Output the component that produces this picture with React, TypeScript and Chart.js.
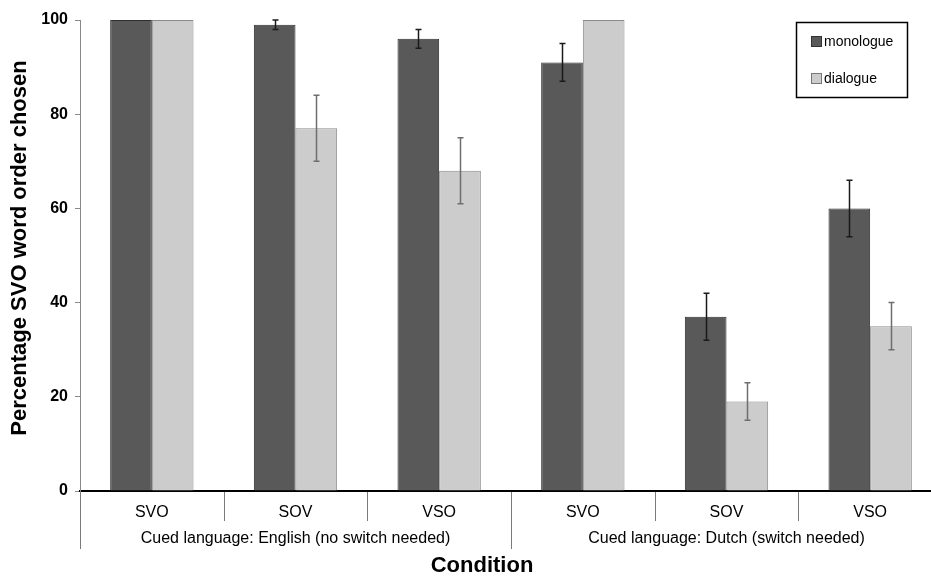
import React, { useEffect, useRef } from "react";
import { Chart, registerables } from "chart.js";

Chart.register(...registerables);

const categories = ["SVO", "SOV", "VSO", "SVO", "SOV", "VSO"];
const groups = ["Cued language: English (no switch needed)", "Cued language: Dutch (switch needed)"];
const monologue = [100, 99, 96, 91, 37, 60];
const dialogue = [100, 77, 68, 100, 19, 35];
const monoErrLow = [null, 98, 94, 87, 32, 54];
const monoErrHigh = [null, 100, 98, 95, 42, 66];
const dialErrLow = [null, 70, 61, null, 15, 30];
const dialErrHigh = [null, 84, 75, null, 23, 40];
const yTicks = [0, 20, 40, 60, 80, 100];

const FONT = '"Liberation Sans", Arial, sans-serif';

const errLows = [monoErrLow, dialErrLow];
const errHighs = [monoErrHigh, dialErrHigh];
const errColors = ["#1a1a1a", "#6e6e6e"];

const customPlugin = {
  id: "custom",
  afterDatasetsDraw(chart: any) {
    const { ctx, scales } = chart;
    const y = scales.y;
    for (let d = 0; d < 2; d++) {
      const meta = chart.getDatasetMeta(d);
      meta.data.forEach((el: any, i: number) => {
        const lo = errLows[d][i];
        const hi = errHighs[d][i];
        if (lo == null || hi == null) return;
        const px = Math.round(el.x) + 0.5;
        const yl = y.getPixelForValue(lo);
        const yh = y.getPixelForValue(hi);
        ctx.save();
        ctx.strokeStyle = errColors[d];
        ctx.lineWidth = 1.5;
        ctx.beginPath();
        ctx.moveTo(px, yl);
        ctx.lineTo(px, yh);
        ctx.moveTo(px - 3, yl);
        ctx.lineTo(px + 3, yl);
        ctx.moveTo(px - 3, yh);
        ctx.lineTo(px + 3, yh);
        ctx.stroke();
        ctx.restore();
      });
    }
  },
  afterDraw(chart: any) {
    const { ctx, scales, chartArea } = chart;
    const x = scales.x;
    const n = categories.length;
    const cw = x.getPixelForValue(1) - x.getPixelForValue(0);
    ctx.save();
    ctx.strokeStyle = "#7a7a7a";
    ctx.lineWidth = 1;
    for (let i = 0; i <= n; i++) {
      const px = Math.round(x.getPixelForValue(0) - cw / 2 + i * cw) + 0.5;
      const long = i % 3 === 0;
      ctx.beginPath();
      ctx.moveTo(px, chartArea.bottom + 1);
      ctx.lineTo(px, long ? 549 : 521);
      ctx.stroke();
    }
    ctx.fillStyle = "#000";
    ctx.font = `16px ${FONT}`;
    ctx.textAlign = "center";
    ctx.textBaseline = "middle";
    groups.forEach((g, gi) => {
      const cx = (x.getPixelForValue(gi * 3) + x.getPixelForValue(gi * 3 + 2)) / 2;
      ctx.fillText(g, cx, 539);
    });
    ctx.font = `bold 22px ${FONT}`;
    ctx.fillText("Condition", 482, 566);
    ctx.save();
    ctx.translate(20, 248);
    ctx.rotate(-Math.PI / 2);
    ctx.fillText("Percentage SVO word order chosen", 0, 0);
    ctx.restore();
    ctx.strokeStyle = "#000";
    ctx.lineWidth = 1.5;
    ctx.strokeRect(796.5, 22.5, 111, 75);
    const items = chart.data.datasets;
    const ys = [41, 78];
    ctx.font = `14px ${FONT}`;
    ctx.textAlign = "left";
    items.forEach((ds: any, i: number) => {
      ctx.fillStyle = ds.backgroundColor;
      ctx.fillRect(811, ys[i] - 5, 11, 11);
      ctx.strokeStyle = i === 0 ? "#333" : "#777";
      ctx.lineWidth = 1;
      ctx.strokeRect(811.5, ys[i] - 4.5, 10, 10);
      ctx.fillStyle = "#000";
      ctx.fillText(ds.label, 824, ys[i] + 1);
    });
    ctx.restore();
  },
};

export default function App() {
  const ref = useRef<HTMLCanvasElement | null>(null);
  useEffect(() => {
    document.body.style.margin = "0";
    document.body.style.overflow = "hidden";
    const canvas = ref.current!;
    const chart = new Chart(canvas, {
      type: "bar",
      data: {
        labels: categories,
        datasets: [
          {
            label: "monologue",
            data: monologue,
            backgroundColor: "#595959",
            borderColor: "#2e2e2e",
            borderWidth: 1,
          },
          {
            label: "dialogue",
            data: dialogue,
            backgroundColor: "#cccccc",
            borderColor: "#8a8a8a",
            borderWidth: 1,
          },
        ],
      },
      options: {
        responsive: false,
        animation: false,
        devicePixelRatio: 1,
        layout: { padding: { top: 20, left: 0, right: 0, bottom: 0 } },
        plugins: { legend: { display: false }, tooltip: { enabled: false } },
        datasets: { bar: { categoryPercentage: 0.58, barPercentage: 1.0 } },
        scales: {
          x: {
            grid: { display: false },
            border: { display: true, color: "#000", width: 2 },
            ticks: {
              color: "#000",
              font: { family: FONT, size: 16 },
              padding: 4,
              maxRotation: 0,
            },
            afterFit(s: any) {
              s.height = 85;
            },
          },
          y: {
            min: 0,
            max: 100,
            afterBuildTicks(s: any) {
              s.ticks = yTicks.map((v) => ({ value: v }));
            },
            grid: { display: true, drawOnChartArea: false, tickLength: 5, color: "#888" },
            border: { display: true, color: "#888", width: 1 },
            ticks: {
              color: "#000",
              font: { family: FONT, size: 16, weight: "bold" },
              padding: 7,
            },
            afterFit(s: any) {
              s.width = 80;
            },
          },
        },
      },
      plugins: [customPlugin],
    });
    return () => chart.destroy();
  }, []);
  return (
    <div style={{ width: 931, height: 576, overflow: "hidden", position: "relative", background: "#fff" }}>
      <canvas ref={ref} width={942} height={576} style={{ width: 942, height: 576, display: "block" }} />
    </div>
  );
}
